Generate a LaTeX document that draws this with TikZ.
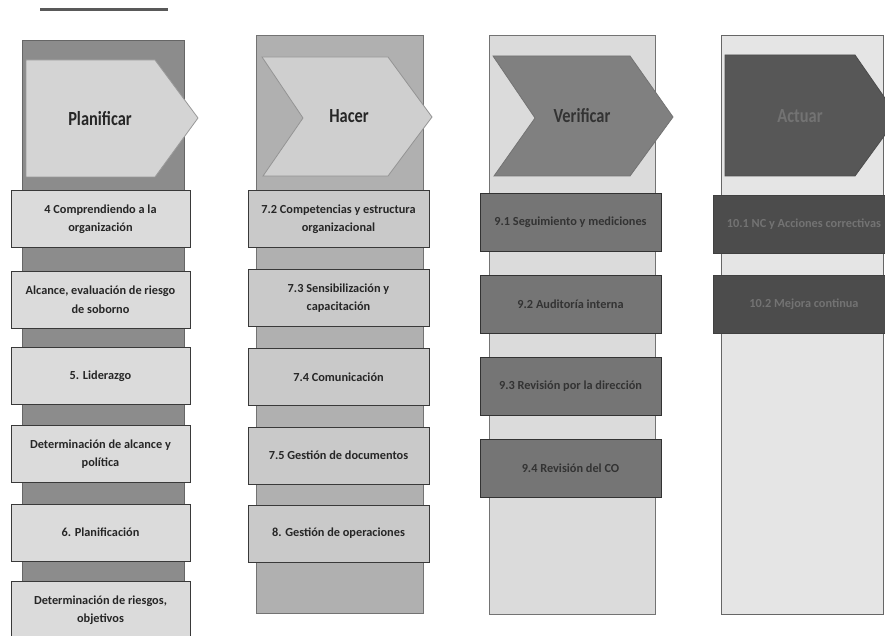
\documentclass[tikz,border=0pt]{standalone}
\usepackage{fontspec}
\setmainfont{Carlito}
\newfontfamily\titlefont[FakeStretch=0.82]{Carlito}
\begin{document}
\begin{tikzpicture}[x=1pt,y=-1pt,
  every node/.style={font=\bfseries\fontsize{12.3}{18.5}\selectfont, align=center, inner sep=0pt},
  col/.style={line width=0.8pt},
  lightbox/.style={rectangle, draw=gray!45!black, line width=0.8pt, fill=gray!28, text=black!85, minimum height=57pt},
  darkbox/.style={rectangle, draw=gray!40!black, line width=0.8pt, fill=black!54, text=black!80, minimum height=58pt},
  darkerbox/.style={rectangle, draw=black!75, line width=0.8pt, fill=black!70, text=black!55, minimum height=58pt},
  title/.style={font=\titlefont\bfseries\fontsize{20}{22}\selectfont}
]
\useasboundingbox (0,0) rectangle (885,636);
\clip (0,0) rectangle (885,636);
\fill[white] (0,0) rectangle (885,636);

% top line
\draw[line width=3pt, black!65] (40,10) -- (168,10);

% ---------- column 1: Planificar ----------
\draw[col, fill=black!45, draw=black!60] (22,40) rectangle (184,645);
\draw[col, fill=black!17, draw=black!40] (26,60) -- (155,60) -- (198,118) -- (155,177) -- (26,177) -- cycle;
\node[title, text=black!85] (plan) at (100,119) {Planificar};
\begin{scope}[every node/.append style={lightbox, minimum width=179pt}]
\node (p1) at (100.5,219) {4 Comprendiendo a la\\organización};
\node (p2) at (100.5,299.5) {Alcance, evaluación de riesgo\\de soborno};
\node (p3) at (100.5,376) {5. Liderazgo};
\node (p4) at (100.5,454) {Determinación de alcance y\\política};
\node (p5) at (100.5,532.5) {6. Planificación};
\node (p6) at (100.5,610) {Determinación de riesgos,\\objetivos};
\end{scope}

% ---------- column 2: Hacer ----------
\draw[col, fill=black!31, draw=black!55] (256,35) rectangle (423,613);
\draw[col, fill=black!19, draw=black!42] (262,57) -- (388,57) -- (432,117) -- (388,176) -- (263,176) -- (303,118) -- cycle;
\node[title, text=black!85] (hacer) at (349,116) {Hacer};
\begin{scope}[every node/.append style={lightbox, fill=black!21, minimum width=181pt}]
\node (h1) at (338.5,219) {7.2 Competencias y estructura\\organizacional};
\node (h2) at (338.5,298) {7.3 Sensibilización y\\capacitación};
\node (h3) at (338.5,377) {7.4 Comunicación};
\node (h4) at (338.5,455.5) {7.5 Gestión de documentos};
\node (h5) at (338.5,533.5) {8. Gestión de operaciones};
\end{scope}

% ---------- column 3: Verificar ----------
\draw[col, fill=black!14, draw=black!55] (489,35) rectangle (655,614);
\draw[col, fill=black!50, draw=black!55] (493,56) -- (630,56) -- (673,117) -- (630,176) -- (494,176) -- (535,118) -- cycle;
\node[title, text=black!80] (verif) at (582,116) {Verificar};
\begin{scope}[every node/.append style={darkbox, minimum width=181pt}]
\node (v1) at (570.5,222) {9.1 Seguimiento y mediciones};
\node (v2) at (570.5,304) {9.2 Auditoría interna};
\node (v3) at (570.5,386.5) {9.3 Revisión por la dirección};
\node (v4) at (570.5,468.5) {9.4 Revisión del CO};
\end{scope}

% ---------- column 4: Actuar ----------
\draw[col, fill=black!10, draw=black!60] (721,35) rectangle (883,614);
\draw[col, fill=black!66, draw=black!70] (725,55) -- (855,55) -- (898,117) -- (855,176) -- (725,176) -- cycle;
\node[title, text=black!55] (actuar) at (800,116) {Actuar};
\begin{scope}[every node/.append style={darkerbox, minimum width=181pt}]
\node (a1) at (804,224) {10.1 NC y Acciones correctivas};
\node (a2) at (804,304) {10.2 Mejora continua};
\end{scope}
\end{tikzpicture}
\end{document}
